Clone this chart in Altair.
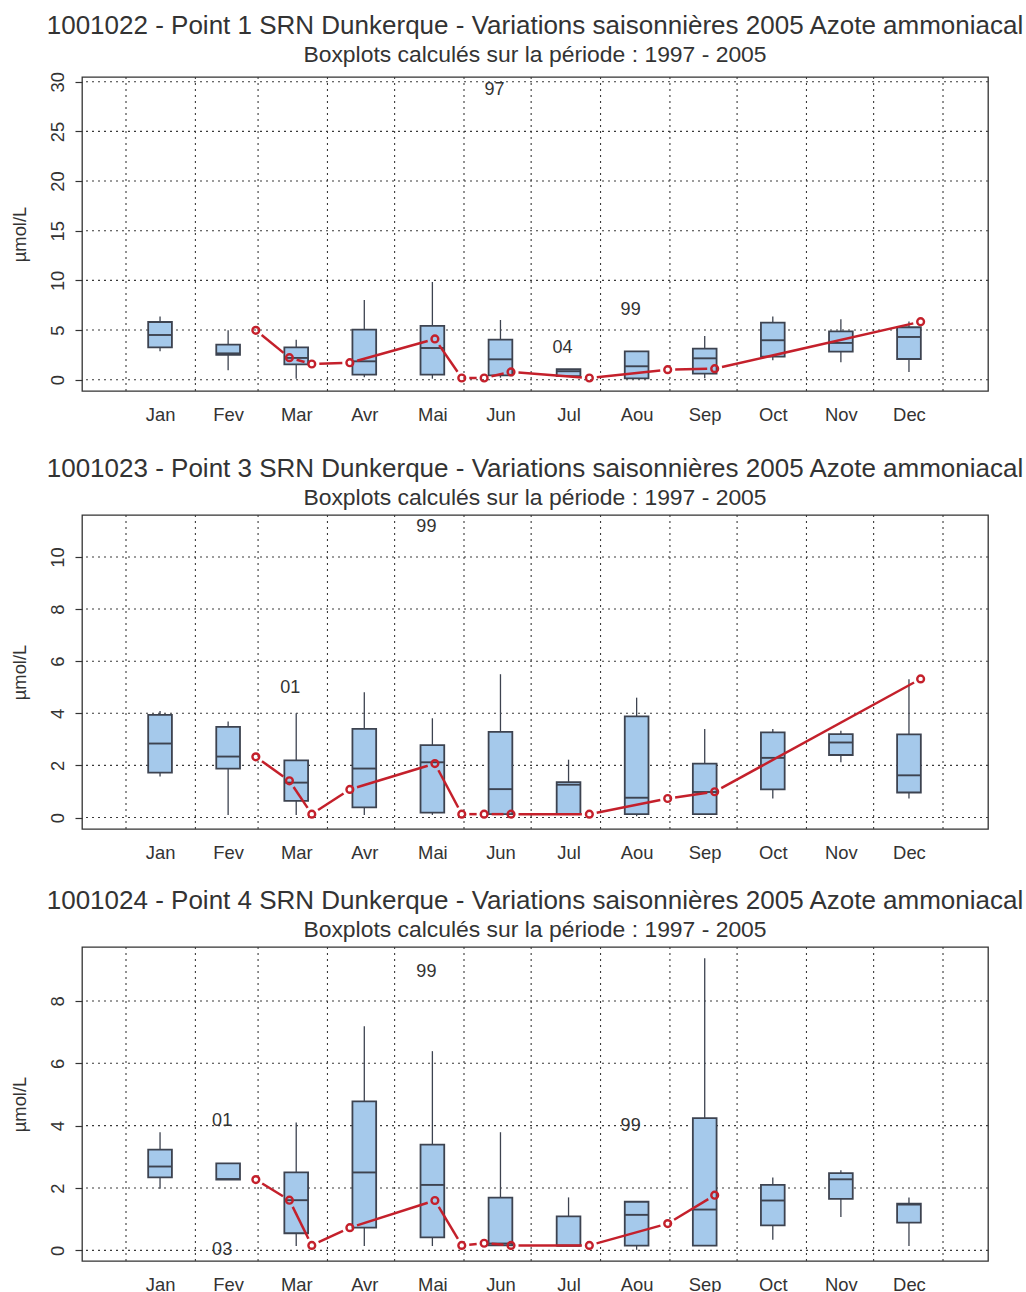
import math

import altair as alt
import pandas as pd

# ---------------------------------------------------------------- data
MONTHS = ["Jan", "Fev", "Mar", "Avr", "Mai", "Jun", "Jul", "Aou", "Sep", "Oct", "Nov", "Dec"]
MONTH_STARTS = [0, 31, 59, 90, 120, 151, 181, 212, 243, 273, 304, 334, 365]

SAMPLE_DATES_2005 = [
    "2005-02-28", "2005-03-15", "2005-03-25", "2005-04-11", "2005-05-19", "2005-05-31",
    "2005-06-10", "2005-06-22", "2005-07-27", "2005-08-31", "2005-09-21", "2005-12-22",
]

# Point 1 (1001022): monthly box statistics 1997-2005
P1_LOW = [2.86, 0.95, 0.10, 0.25, 0.10, 0.20, 0.30, 0.14, 0.14, 1.95, 1.75, 0.78]
P1_Q1 = [3.26, 2.49, 1.55, 0.50, 0.50, 0.44, 0.36, 0.14, 0.60, 2.32, 2.82, 2.08]
P1_MED = [4.50, 2.65, 2.19, 1.85, 3.19, 2.05, 0.85, 1.35, 2.15, 3.97, 3.70, 4.30]
P1_Q3 = [5.81, 3.53, 3.26, 5.04, 5.41, 4.03, 1.05, 2.86, 3.12, 5.74, 4.87, 5.28]
P1_HIGH = [6.35, 4.97, 4.03, 8.03, 9.84, 6.01, 1.05, 2.86, 4.40, 6.35, 6.08, 5.85]
P1_OUT_MONTH = ["Jun", "Jul", "Aou"]
P1_OUT_VALUE = [29.2, 3.19, 7.05]
P1_OUT_YEAR = ["97", "04", "99"]
P1_2005 = [4.97, 2.22, 1.58, 1.71, 4.10, 0.17, 0.17, 0.78, 0.17, 1.01, 1.11, 5.84]

# Point 3 (1001023)
P3_LOW = [1.57, 0.10, 0.10, 0.10, 0.10, 0.13, 0.14, 0.05, 0.13, 0.73, 2.12, 0.73]
P3_Q1 = [1.72, 1.88, 0.64, 0.39, 0.19, 0.13, 0.14, 0.13, 0.13, 1.08, 2.40, 0.96]
P3_MED = [2.84, 2.34, 1.34, 1.88, 2.12, 1.09, 1.26, 0.76, 0.98, 2.29, 2.88, 1.62]
P3_Q3 = [3.94, 3.48, 2.19, 3.40, 2.78, 3.29, 1.36, 3.88, 2.07, 3.27, 3.20, 3.19]
P3_HIGH = [4.09, 3.69, 4.00, 4.81, 3.81, 5.50, 2.22, 4.60, 3.40, 3.40, 3.33, 5.31]
P3_OUT_MONTH = ["Mar", "Mai"]
P3_OUT_VALUE = [4.96, 11.15]
P3_OUT_YEAR = ["01", "99"]
P3_2005 = [2.33, 1.41, 0.13, 1.08, 2.07, 0.13, 0.13, 0.13, 0.13, 0.73, 0.99, 5.32]

# Point 4 (1001024) -- no December sample in 2005
P4_LOW = [1.98, 2.27, 0.14, 0.14, 0.14, 0.16, 0.15, 0.02, 0.15, 0.34, 1.07, 0.14]
P4_Q1 = [2.34, 2.27, 0.55, 0.73, 0.42, 0.16, 0.15, 0.15, 0.15, 0.80, 1.65, 0.89]
P4_MED = [2.69, 2.29, 1.61, 2.50, 2.10, 0.22, 0.15, 1.14, 1.31, 1.60, 2.28, 1.47]
P4_Q3 = [3.23, 2.79, 2.50, 4.78, 3.39, 1.69, 1.09, 1.56, 4.24, 2.10, 2.48, 1.50]
P4_HIGH = [3.79, 2.79, 4.10, 7.19, 6.39, 3.79, 1.70, 1.56, 9.37, 2.34, 2.57, 1.70]
P4_OUT_MONTH = ["Fev", "Fev", "Mai", "Aou"]
P4_OUT_VALUE = [4.16, 0.02, 8.93, 4.00]
P4_OUT_YEAR = ["01", "03", "99", "99"]
P4_2005 = [2.27, 1.61, 0.16, 0.73, 1.60, 0.16, 0.23, 0.16, 0.16, 0.86, 1.77]

SUBTITLE = "Boxplots calculés sur la période : 1997 - 2005"
TITLES = [
    "1001022 - Point 1 SRN Dunkerque - Variations saisonnières 2005 Azote ammoniacal",
    "1001023 - Point 3 SRN Dunkerque - Variations saisonnières 2005 Azote ammoniacal",
    "1001024 - Point 4 SRN Dunkerque - Variations saisonnières 2005 Azote ammoniacal",
]

# ---------------------------------------------------------------- style
FONT = "Liberation Sans"
INK = "#333333"
GRID = "#3a3a3a"
BOX_FILL = "#A5C9EB"
BOX_EDGE = "#3D4350"
RED = "#C4202B"
W, H = 906, 314
X_DOMAIN = [-19.66, 385.1]
BOX_HALF = 5.3        # half box width, in days
POINT_GAP = 7.5       # px left open around each 2005 point (type "b" line)

MONTH_DAYS = 365 / 12
month_mid = {m: (i + 0.5) * MONTH_DAYS for i, m in enumerate(MONTHS)}
sample_day = [d - 1 for d in pd.to_datetime(SAMPLE_DATES_2005).dayofyear]


def xscale():
    return alt.Scale(domain=X_DOMAIN, nice=False, zero=False)


def gapped_segments(days, vals, ydom):
    """Segments joining successive points, shortened at both ends like R's type='b'."""
    sx = W / (X_DOMAIN[1] - X_DOMAIN[0])
    sy = H / (ydom[1] - ydom[0])
    rows = []
    for i in range(len(vals) - 1):
        x0, y0, x1, y1 = days[i], vals[i], days[i + 1], vals[i + 1]
        length = math.hypot((x1 - x0) * sx, (y1 - y0) * sy)
        if length <= 2 * POINT_GAP:
            continue
        f = POINT_GAP / length
        rows.append({
            "xa": x0 + (x1 - x0) * f, "ya": y0 + (y1 - y0) * f,
            "xb": x1 - (x1 - x0) * f, "yb": y1 - (y1 - y0) * f,
        })
    return pd.DataFrame(rows)


def panel(title, low, q1, med, q3, high, out_m, out_v, out_y, series, ydom, yticks):
    ys = alt.Scale(domain=ydom, nice=False, zero=False)
    boxes = pd.DataFrame({
        "mois": MONTHS, "mid": [month_mid[m] for m in MONTHS],
        "low": low, "q1": q1, "med": med, "q3": q3, "high": high,
    })
    boxes["xl"] = boxes["mid"] - BOX_HALF
    boxes["xr"] = boxes["mid"] + BOX_HALF

    hgrid = alt.Chart(pd.DataFrame({"v": yticks})).mark_rule(
        color=GRID, strokeWidth=1.1, strokeDash=[2, 4]
    ).encode(y=alt.Y("v:Q", scale=ys, axis=alt.Axis(
        values=yticks, title="µmol/L", labelAngle=270, labelAlign="center",
        labelBaseline="alphabetic", labelPadding=12, labelFontSize=18.4, labelFont=FONT,
        labelColor=INK, tickSize=7, tickColor=INK, tickWidth=1.2, domain=False, grid=False,
        titleFont=FONT, titleFontSize=18.4, titleFontWeight="normal", titleColor=INK,
        titleAngle=270, titleBaseline="alphabetic", titleAlign="center",
        titleX=-57, titleY=H / 2, labelOverlap=False,
    )))
    vgrid = alt.Chart(pd.DataFrame({"d": MONTH_STARTS})).mark_rule(
        color=GRID, strokeWidth=1.1, strokeDash=[2, 4]
    ).encode(x=alt.X("d:Q", scale=xscale(), axis=alt.Axis(
        values=[month_mid[m] for m in MONTHS],
        labelExpr="['Jan','Fev','Mar','Avr','Mai','Jun','Jul','Aou','Sep','Oct','Nov','Dec'][round(datum.value / (365 / 12) - 0.5)]",
        ticks=False, tickSize=0, domain=False, grid=False, title=None,
        labelFont=FONT, labelFontSize=18.4, labelColor=INK, labelPadding=14,
        labelOverlap=False, labelFlush=False,
    )))

    base = alt.Chart(boxes)
    whisk_lo = base.mark_rule(color=BOX_EDGE, strokeWidth=1.3).encode(
        x=alt.X("mid:Q", scale=xscale()), y=alt.Y("low:Q", scale=ys), y2="q1:Q")
    whisk_hi = base.mark_rule(color=BOX_EDGE, strokeWidth=1.3).encode(
        x=alt.X("mid:Q", scale=xscale()), y=alt.Y("q3:Q", scale=ys), y2="high:Q")
    box = base.mark_rect(fill=BOX_FILL, stroke=BOX_EDGE, strokeWidth=1.8).encode(
        x=alt.X("xl:Q", scale=xscale()), x2="xr:Q",
        y=alt.Y("q1:Q", scale=ys), y2="q3:Q")
    median = base.mark_rule(color=BOX_EDGE, strokeWidth=1.9).encode(
        x=alt.X("xl:Q", scale=xscale()), x2="xr:Q", y=alt.Y("med:Q", scale=ys))

    outl = alt.Chart(pd.DataFrame({
        "mid": [month_mid[m] for m in out_m], "v": out_v, "an": out_y,
    })).mark_text(font=FONT, fontSize=18, color=INK, dx=-6, baseline="middle").encode(
        x=alt.X("mid:Q", scale=xscale()), y=alt.Y("v:Q", scale=ys), text="an:N")

    days = sample_day[:len(series)]
    segs = alt.Chart(gapped_segments(days, series, ydom)).mark_rule(
        color=RED, strokeWidth=2.5).encode(
        x=alt.X("xa:Q", scale=xscale()), x2="xb:Q",
        y=alt.Y("ya:Q", scale=ys), y2="yb:Q")
    pts = alt.Chart(pd.DataFrame({"d": days, "v": series})).mark_point(
        shape="circle", filled=False, size=46, strokeWidth=2.4, color=RED, opacity=1).encode(
        x=alt.X("d:Q", scale=xscale()), y=alt.Y("v:Q", scale=ys))

    return alt.layer(hgrid, vgrid, whisk_lo, whisk_hi, box, median, outl, segs, pts).properties(
        width=W, height=H,
        title=alt.Title(
            title, subtitle=SUBTITLE, font=FONT, fontSize=26, fontWeight="normal",
            color=INK, subtitleFont=FONT, subtitleFontSize=22.9, subtitleColor=INK,
            anchor="middle", frame="group", offset=5, subtitlePadding=5,
        ),
    )


charts = [
    panel(TITLES[0], P1_LOW, P1_Q1, P1_MED, P1_Q3, P1_HIGH, P1_OUT_MONTH, P1_OUT_VALUE,
          P1_OUT_YEAR, P1_2005, [-1.14, 30.48], [0, 5, 10, 15, 20, 25, 30]),
    panel(TITLES[1], P3_LOW, P3_Q1, P3_MED, P3_Q3, P3_HIGH, P3_OUT_MONTH, P3_OUT_VALUE,
          P3_OUT_YEAR, P3_2005, [-0.44, 11.61], [0, 2, 4, 6, 8, 10]),
    panel(TITLES[2], P4_LOW, P4_Q1, P4_MED, P4_Q3, P4_HIGH, P4_OUT_MONTH, P4_OUT_VALUE,
          P4_OUT_YEAR, P4_2005, [-0.34, 9.73], [0, 2, 4, 6, 8]),
]

chart = alt.vconcat(
    charts[0], alt.vconcat(charts[1], charts[2], spacing=23), spacing=29
).properties(
    padding={"left": 9, "top": 11, "right": 0, "bottom": 0},
    background="white",
).configure_view(stroke=INK, strokeWidth=1.3)

chart.save("out.html", embed_options={"renderer": "svg", "actions": False})
